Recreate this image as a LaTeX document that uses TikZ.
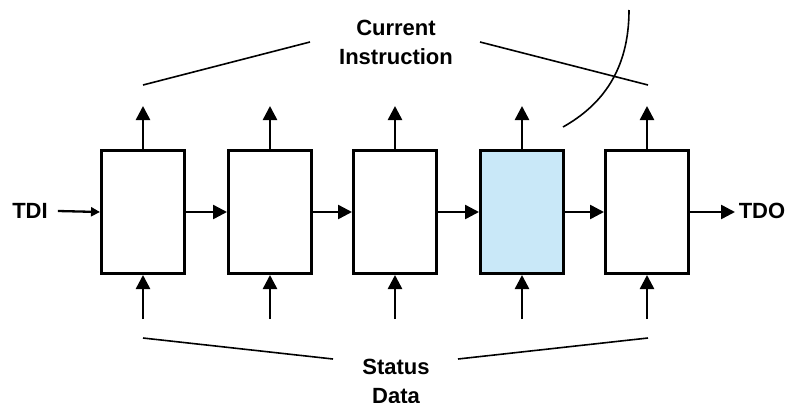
\documentclass[tikz,border=0pt]{standalone}
\usepackage{fontspec}
\setmainfont{Liberation Sans}
\usetikzlibrary{arrows.meta}
\definecolor{cellblue}{HTML}{C9E8F8}
\tikzset{
  cell/.style={draw, line width=3pt, minimum width=83pt, minimum height=123pt, inner sep=0pt, fill=white},
  sig/.style={line width=2.5pt, -{Triangle[length=14pt,width=14pt]}},
  brace/.style={line width=1.6pt},
  lbl/.style={font=\fontsize{22}{29}\selectfont\bfseries, inner sep=0pt, align=center}
}
\begin{document}
\begin{tikzpicture}[x=1pt,y=-1pt]
\useasboundingbox (0,0) rectangle (786,402);
\foreach \i/\x in {1/143,2/270,3/395,4/522,5/647}{
  \node[cell] (b\i) at (\x,212) {};
  \coordinate (t\i) at (\x,106);
  \coordinate (s\i) at (\x,319);
  \draw[sig] (b\i.north) -- (t\i);
  \draw[sig] (s\i) -- (b\i.south);
}
\node[cell, fill=cellblue] at (b4) {};
\node[lbl] (tdi) at (30,211) {TDI};
\node[lbl] (tdo) at (762,211) {TDO};
\draw[line width=2.3pt, -{Triangle[length=9pt,width=9pt]}] (tdi.east) ++(10,0) -- (b1.west);
\draw[sig] (b1.east) -- (b2.west);
\draw[sig] (b2.east) -- (b3.west);
\draw[sig] (b3.east) -- (b4.west);
\draw[sig] (b4.east) -- (b5.west);
\draw[sig] (b5.east) -- ++(45,0) coordinate (tdoend);
\node[lbl] (ci) at (396,42) {Current\\Instruction};
\node[lbl] (sd) at (396,381) {Status\\Data};
\coordinate (cl1) at (143,85); \coordinate (cl2) at (310,42);
\coordinate (cr1) at (480,42); \coordinate (cr2) at (648,85);
\draw[brace] (cl1) -- (cl2);
\draw[brace] (cr1) -- (cr2);
\coordinate (sl1) at (143,338); \coordinate (sl2) at (333,359);
\coordinate (sr1) at (458,359); \coordinate (sr2) at (648,338);
\draw[brace] (sl1) -- (sl2);
\draw[brace] (sr1) -- (sr2);
\coordinate (arcA) at (629,10); \coordinate (arcB) at (563,127);
\draw[line width=1.6pt] (arcA) .. controls (629,70) and (602,105) .. (arcB);
\end{tikzpicture}
\end{document}
